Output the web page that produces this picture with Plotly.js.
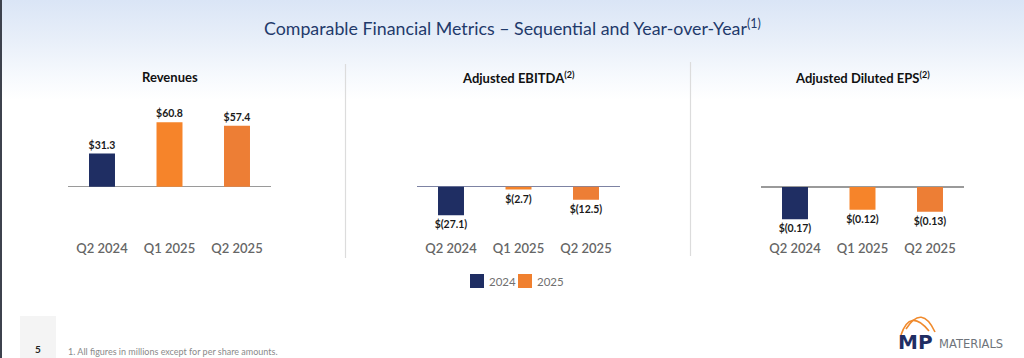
<!DOCTYPE html>
<html>
<head>
<meta charset="utf-8">
<script src="https://cdn.plot.ly/plotly-3.0.1.min.js"></script>
<style>
  html, body { margin: 0; padding: 0; }
  body { width: 1024px; height: 358px; overflow: hidden;
         background: linear-gradient(to bottom, #dae5f6 0px, #e8eff9 40px, #f6f9fd 75px, #ffffff 100px); }
  #chart { width: 1024px; height: 358px; }
</style>
</head>
<body>
<div id="chart"></div>
<script>
// ---- data ----
const categories = ['Q2 2024', 'Q1 2025', 'Q2 2025'];
const revenues = [31.3, 60.8, 57.4];
const ebitda = [-27.1, -2.7, -12.5];
const eps = [-0.17, -0.12, -0.13];
const panelTitles = ['Revenues', 'Adjusted EBITDA<sup>(2)</sup>', 'Adjusted Diluted EPS<sup>(2)</sup>'];
const seriesNames = ['2024', '2025'];
const mainTitle = 'Comparable Financial Metrics – Sequential and Year-over-Year<sup>(1)</sup>';
const footnote = '1. All figures in millions except for per share amounts.';
const pageNumber = '5';

// ---- styling ----
const W = 1024, H = 358;
const NAVY = '#1f2e63';
const ORANGE1 = '#f6842a';
const ORANGE2 = '#ed7e35';
const FONT = 'Lato, "Open Sans", sans-serif';

function fmt(v, d) {
  const s = Math.abs(v).toFixed(d);
  return v < 0 ? '$(' + s + ')' : '$' + s;
}
const px = x => x / W;
const py = y => 1 - y / H;

const panels = [
  { vals: revenues, dec: 1, xd: [68.25, 270.75], yr: [-46.5, 81.8], zc: '#9a9a9a', tx: 170 },
  { vals: ebitda,   dec: 1, xd: [417.25, 619.75], yr: [-46.95, 82.6], zc: '#7d83a3', tx: 518 },
  { vals: eps,      dec: 2, xd: [761.25, 963.75], yr: [-0.258, 0.458], zc: '#9a9a9a', tx: 862 }
];

const traces = [];
const layout = {
  width: W, height: H,
  margin: { l: 0, r: 0, t: 0, b: 0 },
  paper_bgcolor: 'rgba(0,0,0,0)',
  plot_bgcolor: 'rgba(0,0,0,0)',
  barmode: 'overlay',
  showlegend: false,
  font: { family: FONT },
  annotations: [],
  shapes: []
};

panels.forEach((p, i) => {
  const xa = 'x' + (i ? i + 1 : ''), ya = 'y' + (i ? i + 1 : '');
  const xk = 'xaxis' + (i ? i + 1 : ''), yk = 'yaxis' + (i ? i + 1 : '');
  const labels = p.vals.map(v => fmt(v, p.dec));
  const common = {
    type: 'bar', xaxis: xa, yaxis: ya, width: 0.385,
    textposition: 'outside', cliponaxis: false, constraintext: 'none',
    textfont: { family: FONT, size: 10.5, color: '#1a1a1a', weight: 700 },
    hoverinfo: 'skip'
  };
  traces.push(Object.assign({}, common, {
    name: seriesNames[0],
    x: categories.slice(0, 1), y: p.vals.slice(0, 1), text: labels.slice(0, 1),
    marker: { color: NAVY }
  }));
  traces.push(Object.assign({}, common, {
    name: seriesNames[1],
    x: categories.slice(1), y: p.vals.slice(1), text: labels.slice(1),
    marker: { color: [ORANGE1, ORANGE2] }
  }));
  layout[xk] = {
    domain: [px(p.xd[0]), px(p.xd[1])], anchor: ya,
    type: 'category', categoryorder: 'array', categoryarray: categories,
    range: [-0.5, 2.5], showgrid: false, showline: false, zeroline: false,
    ticks: '', ticklen: 0, ticklabelstandoff: 3,
    tickfont: { family: FONT, size: 13, color: '#666', weight: 600 }
  };
  layout[yk] = {
    domain: [py(236), py(100)], anchor: xa, range: p.yr,
    showgrid: false, showline: false, showticklabels: false, ticks: '',
    zeroline: true, zerolinecolor: p.zc, zerolinewidth: 1.5
  };
  layout.annotations.push({
    xref: 'paper', yref: 'paper', x: px(p.tx), y: py(77), xanchor: 'center', yanchor: 'middle',
    text: panelTitles[i], showarrow: false,
    font: { family: FONT, size: 13, color: '#111', weight: 700 }
  });
});

// legend (manual, to match the compact spacing)
const legendItems = [
  { name: seriesNames[0], color: NAVY, x: 470 },
  { name: seriesNames[1], color: '#f0802f', x: 518 }
];
legendItems.forEach(it => {
  layout.shapes.push({ type: 'rect', xref: 'paper', yref: 'paper',
    x0: px(it.x), x1: px(it.x + 14), y0: py(288), y1: py(274),
    fillcolor: it.color, line: { width: 0 } });
  layout.annotations.push({
    xref: 'paper', yref: 'paper', x: px(it.x + 17), y: py(281), xanchor: 'left', yanchor: 'middle',
    text: it.name, showarrow: false, font: { family: FONT, size: 11.5, color: '#707070' }
  });
});

// main title
layout.annotations.push({
  xref: 'paper', yref: 'paper', x: px(512), y: py(27), xanchor: 'center', yanchor: 'middle',
  text: mainTitle, showarrow: false,
  font: { family: FONT, size: 17.8, color: '#1f3a6b' }
});
// footnote
layout.annotations.push({
  xref: 'paper', yref: 'paper', x: px(66), y: py(351), xanchor: 'left', yanchor: 'middle',
  text: footnote, showarrow: false, font: { family: FONT, size: 9, color: '#8a8a8a' }
});
// page number
layout.annotations.push({
  xref: 'paper', yref: 'paper', x: px(38), y: py(349), xanchor: 'center', yanchor: 'middle',
  text: pageNumber, showarrow: false, font: { family: FONT, size: 10, color: '#222', weight: 700 }
});
// logo text
layout.annotations.push({
  xref: 'paper', yref: 'paper', x: px(896), y: py(342), xanchor: 'left', yanchor: 'middle',
  text: 'MP', showarrow: false, font: { family: '"DejaVu Sans", sans-serif', size: 20, color: '#1f2e63', weight: 700 }
});
layout.annotations.push({
  xref: 'paper', yref: 'paper', x: px(937), y: py(344), xanchor: 'left', yanchor: 'middle',
  text: 'MATERIALS', showarrow: false, font: { family: '"DejaVu Sans", sans-serif', size: 11.5, color: '#6e737a' }
});

// separators
layout.shapes.push({ type: 'line', xref: 'paper', yref: 'paper', x0: px(345.5), x1: px(345.5), y0: py(64), y1: py(258), line: { color: '#dcdcdc', width: 1.2 } });
layout.shapes.push({ type: 'line', xref: 'paper', yref: 'paper', x0: px(690.5), x1: px(690.5), y0: py(62), y1: py(256), line: { color: '#dcdcdc', width: 1.2 } });
// left edge
layout.shapes.push({ type: 'rect', xref: 'paper', yref: 'paper', x0: 0, x1: px(2), y0: 0, y1: 1, fillcolor: '#3d424d', line: { width: 0 } });
// page number box
layout.shapes.push({ type: 'rect', xref: 'paper', yref: 'paper', x0: px(20), x1: px(56), y0: 0, y1: py(316), fillcolor: '#f4f4f4', line: { width: 0 }, layer: 'below' });
// logo arcs
function pp(x, y) { return px(x).toFixed(5) + ',' + py(y).toFixed(5); }
layout.shapes.push({ type: 'path', xref: 'paper', yref: 'paper',
  path: 'M' + pp(901, 335) + ' Q' + pp(910, 308) + ' ' + pp(929, 331),
  line: { color: '#f08a2c', width: 1.6 } });
layout.shapes.push({ type: 'path', xref: 'paper', yref: 'paper',
  path: 'M' + pp(906, 329) + ' Q' + pp(922, 304) + ' ' + pp(935, 332),
  line: { color: '#f08a2c', width: 1.6 } });

Plotly.newPlot('chart', traces, layout, { staticPlot: true, displayModeBar: false });
</script>
</body>
</html>
